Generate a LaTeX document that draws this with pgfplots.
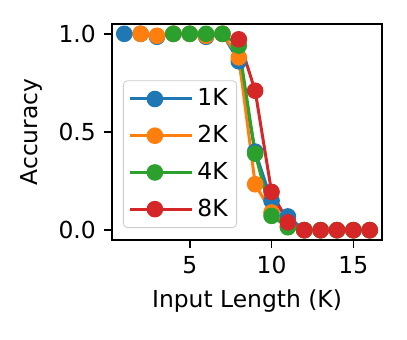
\documentclass[border=0pt]{standalone}
\usepackage{fontspec}
\setmainfont{DejaVu Sans}
\usepackage{pgfplots}
\pgfplotsset{compat=1.18}

\definecolor{c1}{HTML}{1F77B4}
\definecolor{c2}{HTML}{FF7F0E}
\definecolor{c3}{HTML}{2CA02C}
\definecolor{c4}{HTML}{D62728}

\begin{document}
\fontsize{11.7}{14}\selectfont
\begin{tikzpicture}
\begin{axis}[
    at={(0,0)}, anchor=south west,
    width=135pt, height=108pt, scale only axis,
    xmin=0.25, xmax=16.75, ymin=-0.05, ymax=1.05,
    xtick={5,10,15}, ytick={0,0.5,1},
    yticklabel style={/pgf/number format/.cd, fixed, fixed zerofill, precision=1},
    /pgf/number format/assume math mode=true,
    tick label style={font=\fontsize{11.7}{14}\selectfont},
    label style={font=\fontsize{11.7}{14}\selectfont},
    tick align=outside, tick pos=left,
    major tick length=4pt,
    every tick/.style={black, line width=0.8pt},
    axis line style={line width=0.8pt},
    xlabel={Input Length (K)}, ylabel={Accuracy},
    every axis plot/.append style={line width=1.5pt, mark=*, mark size=3.9pt,
        opacity=1, fill opacity=1, draw opacity=1},
    legend cell align=left,
    legend style={at={(0,0)}, anchor=south west, xshift=5.5pt, yshift=6pt,
        draw=black!20, rounded corners=2pt, fill=white, fill opacity=0.8, text opacity=1,
        inner xsep=2.5pt, inner ysep=2pt, row sep=4pt, font=\fontsize{11.7}{14}\selectfont},
    legend image code/.code={
        \draw[mark repeat=2, mark phase=2] plot coordinates {(0pt,0pt) (12.5pt,0pt) (25pt,0pt)};
        \path (0pt,0pt) -- (31pt,0pt);},
]
\addplot[c1, mark options={solid, fill=c1, draw=c1, line width=0.5pt}] coordinates {
    (1,1.0) (2,1.0) (3,0.985) (4,1.0) (5,1.0) (6,0.985) (7,1.0) (8,0.86)
    (9,0.40) (10,0.15) (11,0.07) (12,0) (13,0) (14,0) (15,0) (16,0)};
\addlegendentry{1K}
\addplot[c2, mark options={solid, fill=c2, draw=c2, line width=0.5pt}] coordinates {
    (2,1.0) (3,0.99) (4,1.0) (5,1.0) (6,0.99) (7,1.0) (8,0.88)
    (9,0.234) (10,0.09) (11,0.02) (12,0) (13,0) (14,0) (15,0) (16,0)};
\addlegendentry{2K}
\addplot[c3, mark options={solid, fill=c3, draw=c3, line width=0.5pt}] coordinates {
    (4,1.0) (5,1.0) (6,1.0) (7,1.0) (8,0.94)
    (9,0.39) (10,0.073) (11,0.015) (12,0) (13,0) (14,0) (15,0) (16,0)};
\addlegendentry{4K}
\addplot[c4, mark options={solid, fill=c4, draw=c4, line width=0.5pt}] coordinates {
    (8,0.972) (9,0.71) (10,0.195) (11,0.04) (12,0) (13,0) (14,0) (15,0) (16,0)};
\addlegendentry{8K}
\end{axis}
\path (-56pt,-49.5pt) rectangle (147.5pt,120pt);
\end{tikzpicture}
\end{document}
